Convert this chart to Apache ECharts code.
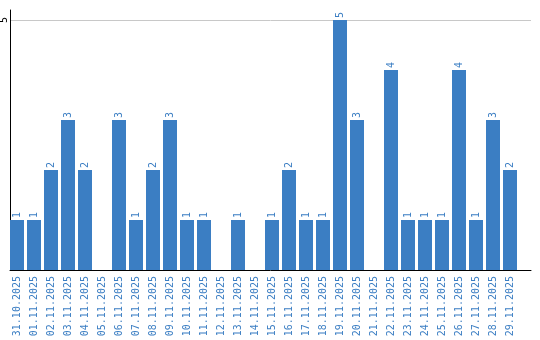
<!DOCTYPE html>
<html><head><meta charset="utf-8">
<script src="https://cdn.jsdelivr.net/npm/echarts@6/dist/echarts.min.js"></script>
<style>html,body{margin:0;padding:0;background:#fff}#c{width:540px;height:340px}</style>
</head><body><div id="c"></div>
<script>
const categories = ["31.10.2025","01.11.2025","02.11.2025","03.11.2025","04.11.2025","05.11.2025","06.11.2025","07.11.2025","08.11.2025","09.11.2025","10.11.2025","11.11.2025","12.11.2025","13.11.2025","14.11.2025","15.11.2025","16.11.2025","17.11.2025","18.11.2025","19.11.2025","20.11.2025","21.11.2025","22.11.2025","23.11.2025","24.11.2025","25.11.2025","26.11.2025","27.11.2025","28.11.2025","29.11.2025"];
const values = [1,1,2,3,2,0,3,1,2,3,1,1,0,1,0,1,2,1,1,5,3,0,4,1,1,1,4,1,3,2];
const yTicks = [5];

const FONT = "DejaVu Sans Mono";
const BLUE = "#3b7ec3";
const chart = echarts.init(document.getElementById('c'), null, {renderer:'canvas'});
chart.setOption({
  animation:false,
  grid:[
    {left:8.5, right:21.5, top:10, bottom:70, outerBoundsMode:'none', containLabel:false},
    {left:10, right:9, top:10, bottom:70, outerBoundsMode:'none', containLabel:false}
  ],
  xAxis:[
    {gridIndex:0, type:'category', data:categories,
     axisLine:{show:false}, axisTick:{show:false},
     axisLabel:{rotate:90, margin:6, color:BLUE, fontFamily:FONT, fontSize:10, interval:0}},
    {gridIndex:1, type:'category', data:[''],
     axisLine:{show:true, lineStyle:{color:'#000', width:1}}, axisTick:{show:false}, axisLabel:{show:false}}
  ],
  yAxis:[
    {gridIndex:0, type:'value', min:0, max:5.2, interval:5, show:false},
    {gridIndex:1, type:'value', min:0, max:5.2, interval:5,
     axisLine:{show:true, lineStyle:{color:'#000', width:1}}, axisTick:{show:false},
     splitLine:{show:true, showMaxLine:false, showMinLine:false, lineStyle:{color:'#c8c8c8', width:1}},
     axisLabel:{rotate:90, margin:1, color:'#000', fontFamily:FONT, fontSize:10, showMinLabel:false, showMaxLabel:false,
       formatter:v => yTicks.includes(v) ? String(v) : ''}}
  ],
  series:[{
    type:'bar', xAxisIndex:0, yAxisIndex:0, data:values, barWidth:14,
    itemStyle:{color:BLUE},
    label:{show:true, position:'top', rotate:90, align:'left', verticalAlign:'middle', distance:2,
      color:BLUE, fontFamily:FONT, fontSize:10,
      formatter:p => p.value ? String(p.value) : ''}
  }]
});
</script></body></html>
